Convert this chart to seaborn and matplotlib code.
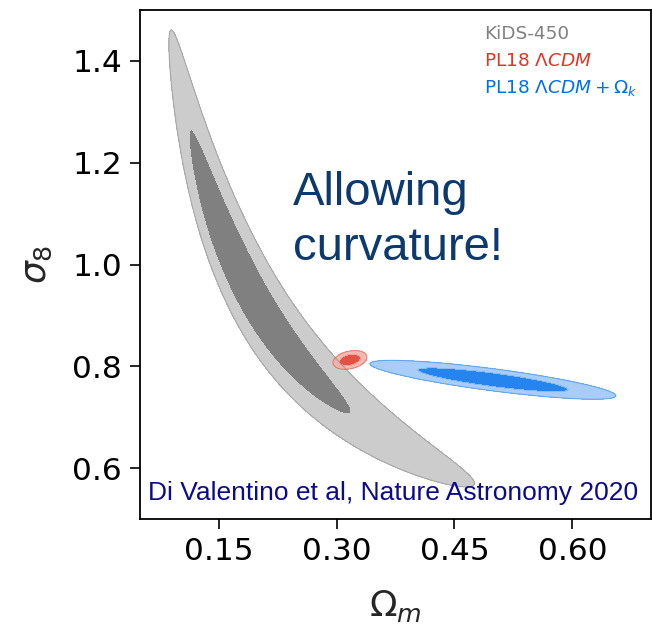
import numpy as np
import matplotlib
matplotlib.use("Agg")
import matplotlib.pyplot as plt
import seaborn as sns

# ---- data ----
# KiDS-450: banana along sigma8 * Om^alpha = const,
# Gaussian across it, split-normal in ln(sigma8) along it
kids_alpha = 0.58          # degeneracy exponent
kids_u0 = -1.019           # ln(sigma8) + alpha*ln(Om) on the ridge
kids_su = 0.05             # width across degeneracy
kids_v0 = 0.009            # ln(sigma8) at the peak
kids_sv_hi = 0.149         # width along degeneracy, high sigma8 side
kids_sv_lo = 0.235         # width along degeneracy, low sigma8 side

# Planck 2018 LCDM
pl_mean = [0.317, 0.8125]
pl_sd = [0.0087, 0.0074]
pl_corr = 0.3

# Planck 2018 LCDM + Omega_k
plk_mean = [0.499, 0.7735]
plk_sd = [0.063, 0.0154]
plk_corr = -0.82

chi2_levels = [2.30, 6.17]

legend_labels = ["KiDS-450", r"PL18 $\Lambda CDM$", r"PL18 $\Lambda CDM + \Omega_k$"]
legend_colors = ["gray", "#E03424", "#006FED"]

x_ticks = [0.15, 0.30, 0.45, 0.60]
y_ticks = [0.6, 0.8, 1.0, 1.2, 1.4]

# ---- style ----
sns.set_style("ticks")
plt.rcParams["font.family"] = ["DejaVu Sans"]
plt.rcParams["mathtext.fontset"] = "dejavusans"

fig = plt.figure(figsize=(6.52, 6.29), dpi=100)
ax = fig.add_axes([140 / 652, 1 - 519 / 629, 511 / 652, 509 / 629])

om = np.linspace(0.05, 0.70, 900)
s8 = np.linspace(0.50, 1.50, 900)
OM, S8 = np.meshgrid(om, s8)


def pale(c, f=0.6):
    r = np.array(matplotlib.colors.to_rgb(c))
    return tuple(r * (1 - f) + f)


def gauss_chi2(mean, sd, corr):
    dx = (OM - mean[0]) / sd[0]
    dy = (S8 - mean[1]) / sd[1]
    return (dx ** 2 + dy ** 2 - 2 * corr * dx * dy) / (1 - corr ** 2)


u = np.log(S8) + kids_alpha * np.log(OM)
v = np.log(S8)
sv = np.where(v > kids_v0, kids_sv_hi, kids_sv_lo)
chi_kids = ((u - kids_u0) / kids_su) ** 2 + ((v - kids_v0) / sv) ** 2
chi_pl = gauss_chi2(pl_mean, pl_sd, pl_corr)
chi_plk = gauss_chi2(plk_mean, plk_sd, plk_corr)

for chi, col, alpha in [(chi_kids, legend_colors[0], 1.0),
                        (chi_pl, legend_colors[1], 0.85),
                        (chi_plk, legend_colors[2], 0.85)]:
    ax.contourf(OM, S8, chi, levels=[0] + chi2_levels,
                colors=[col, pale(col)], alpha=alpha, zorder=2)
    ax.contour(OM, S8, chi, levels=[chi2_levels[1]], colors=[col],
               linewidths=0.8, alpha=0.5 * alpha, zorder=3)

ax.set_xlim(0.05, 0.70)
ax.set_ylim(0.5, 1.5)
ax.set_xticks(x_ticks)
ax.set_xticklabels([f"{t:.2f}" for t in x_ticks])
ax.set_yticks(y_ticks)
ax.set_yticklabels([f"{t:.1f}" for t in y_ticks])
ax.tick_params(axis="both", labelsize=22.5, length=7, width=1.2,
               direction="out", pad=6, colors="black")
for sp in ax.spines.values():
    sp.set_visible(True)
    sp.set_linewidth(1.3)
    sp.set_color("black")

ax.set_xlabel(r"$\Omega_m$", fontsize=26, labelpad=16)
ax.set_ylabel(r"$\sigma_8$", fontsize=26, labelpad=13)

# legend (coloured text)
for i, (lab, col) in enumerate(zip(legend_labels, legend_colors)):
    ax.text(0.673, 0.9424 - i * 0.0525, lab, color=col, fontsize=13.3,
            transform=ax.transAxes, ha="left", va="baseline", zorder=5)

ax.text(0.2994, (519 - 205) / 509, "Allowing", color="#0d3a6e",
        fontsize=34, family="Liberation Sans", transform=ax.transAxes,
        ha="left", va="baseline", zorder=5)
ax.text(0.2994, (519 - 260) / 509, "curvature!", color="#0d3a6e",
        fontsize=34, family="Liberation Sans", transform=ax.transAxes,
        ha="left", va="baseline", zorder=5)
ax.text((148 - 140) / 511, (519 - 500) / 509,
        "Di Valentino et al, Nature Astronomy 2020", color="#0b0b8c",
        fontsize=19, family="Liberation Sans", transform=ax.transAxes,
        ha="left", va="baseline", zorder=5)

fig.savefig("out.png", dpi=100)
